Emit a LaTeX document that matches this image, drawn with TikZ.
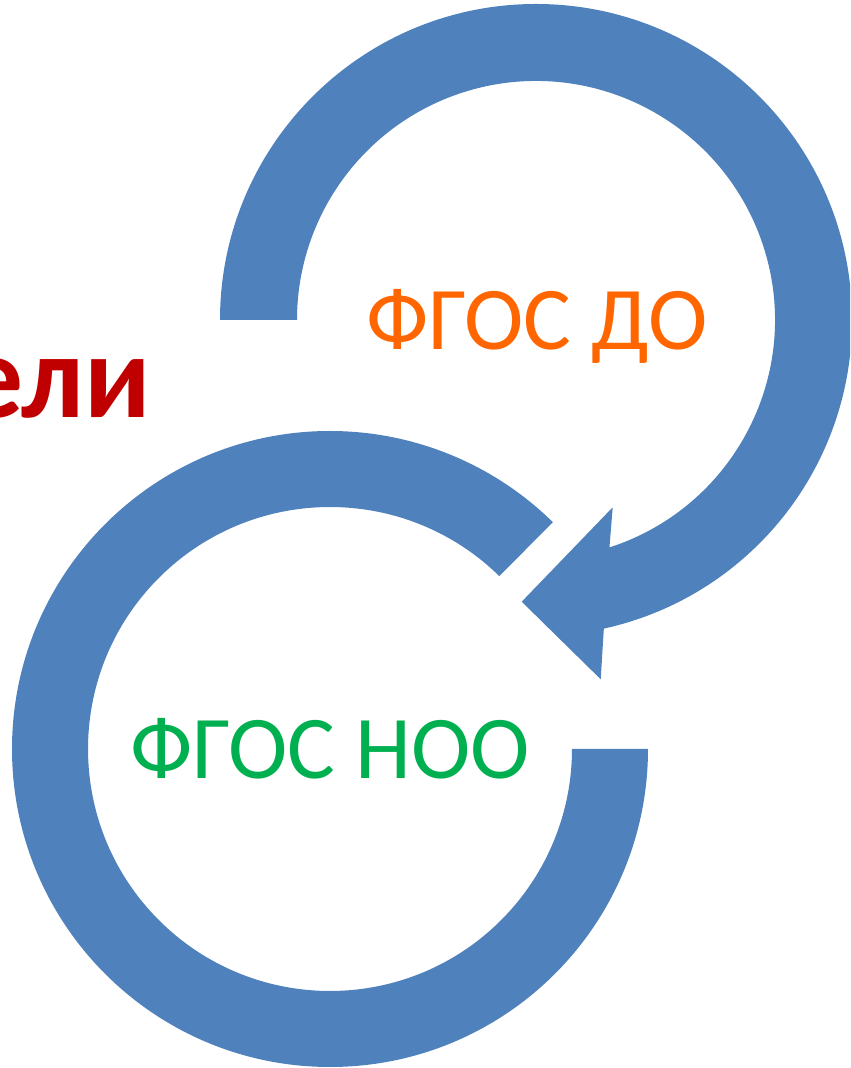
\documentclass[tikz,border=0pt]{standalone}
\usepackage{fontspec}
\setmainfont{Carlito}
\usepackage{xcolor}
\usepackage{tikz}
\usetikzlibrary{
  positioning,
  calc
}
\definecolor{fgRing}{HTML}{4F81BD}
\definecolor{fgDO}{HTML}{FF6600}
\definecolor{fgNOO}{HTML}{00B050}
\definecolor{fgTitle}{HTML}{C00000}

\begin{document}
\begin{tikzpicture}[x=0.02cm, y=0.02cm,
  ring/.style={fill=fgRing, draw=none},
  label/.style={inner sep=0pt, anchor=base, font=\fontsize{51}{60}\selectfont}]
  \clip (0,0) rectangle (850,1068);
  \coordinate (T) at (536,748);
  \coordinate (B) at (330,319);
  % upper ring with arrow head
  \path[ring] ([shift={(T)}]180:316) arc[start angle=180, end angle=-77.6, radius=316]
    -- (600.7,388.7) -- (521.7,466.3) -- (612.7,560.7)
    -- ([shift={(T)}]-72.1:239) arc[start angle=-72.1, end angle=180, radius=239] -- cycle;
  % lower ring, open at the top right
  \path[ring] ([shift={(B)}]0:318) arc[start angle=0, end angle=-314.5, radius=318]
    -- ([shift={(B)}]45.6:242) arc[start angle=45.6, end angle=360, radius=242] -- cycle;
  \node[label, text=fgDO] (doText) at (537,718.7) {ФГОС ДО};
  \node[label, text=fgNOO] (nooText) at (330,289) {ФГОС НОО};
  \node[inner sep=0pt, anchor=base east, text=fgTitle,
    font=\fontsize{68}{80}\selectfont\bfseries] (eliText) at (151,650) {ели};
\end{tikzpicture}
\end{document}
